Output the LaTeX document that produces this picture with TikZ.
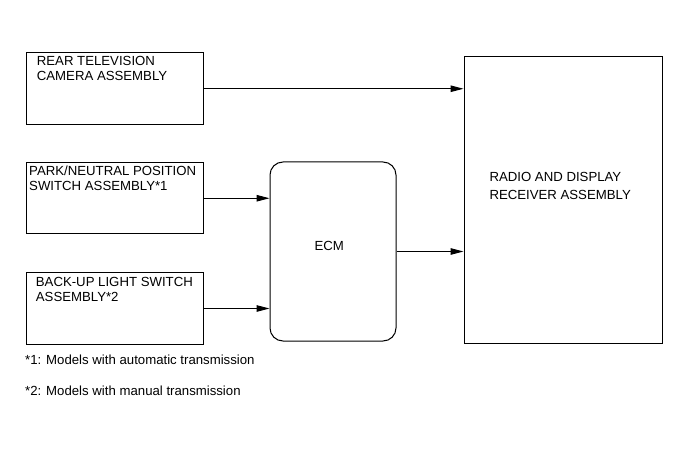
\documentclass[tikz,border=0pt]{standalone}
\usepackage{fontspec}
\setmainfont{Liberation Sans}
\usetikzlibrary{arrows.meta}
\begin{document}
\begin{tikzpicture}[x=1pt,y=-1pt,
  every node/.style={font=\fontsize{13.2}{15.4}\selectfont},
  blockbox/.style={draw,line width=1pt,inner sep=0pt,anchor=north west},
  lbl/.style={inner sep=0pt,anchor=west,align=left},
  conn/.style={line width=1pt,-{Triangle[length=13pt,width=6.5pt]}}]
\useasboundingbox (0,0) rectangle (691,465);
% boxes
\node[blockbox,minimum width=177pt,minimum height=71.5pt] (cam) at (25.5,52.5) {};
\node[blockbox,minimum width=176.5pt,minimum height=70.5pt] (pnp) at (26,162.5) {};
\node[blockbox,minimum width=177pt,minimum height=71pt] (bul) at (26,272.5) {};
\node[blockbox,rounded corners=13pt,minimum width=126pt,minimum height=179pt] (ecm) at (269.5,161.5) {};
\node[blockbox,minimum width=198pt,minimum height=286pt] (radio) at (463.5,56.5) {};
% labels
\node[lbl] (camtxt) at (36.7,68.4) {REAR TELEVISION\\CAMERA ASSEMBLY};
\node[lbl] (pnptxt) at (29,178.2) {PARK/NEUTRAL POSITION\\SWITCH ASSEMBLY*1};
\node[lbl] (bultxt) at (35.7,289.5) {BACK-UP LIGHT SWITCH\\ASSEMBLY*2};
\node[inner sep=0pt] (ecmtxt) at (329.3,246) {ECM};
\node[lbl,font=\fontsize{13.2}{17.6}\selectfont] (radiotxt) at (489.3,186.2) {RADIO AND DISPLAY\\RECEIVER ASSEMBLY};
% footnotes
\node[lbl] (fn1) at (25,359.3) {*1: Models with automatic transmission};
\node[lbl] (fn2) at (25,390.7) {*2: Models with manual transmission};
% connectors
\draw[conn] (cam.east) -- (radio.west |- cam.east);
\draw[conn] (pnp.east) -- (ecm.west |- pnp.east);
\draw[conn] (bul.east) -- (ecm.west |- bul.east);
\draw[conn] (ecm.east) -- (radio.west |- ecm.east);
\end{tikzpicture}
\end{document}
